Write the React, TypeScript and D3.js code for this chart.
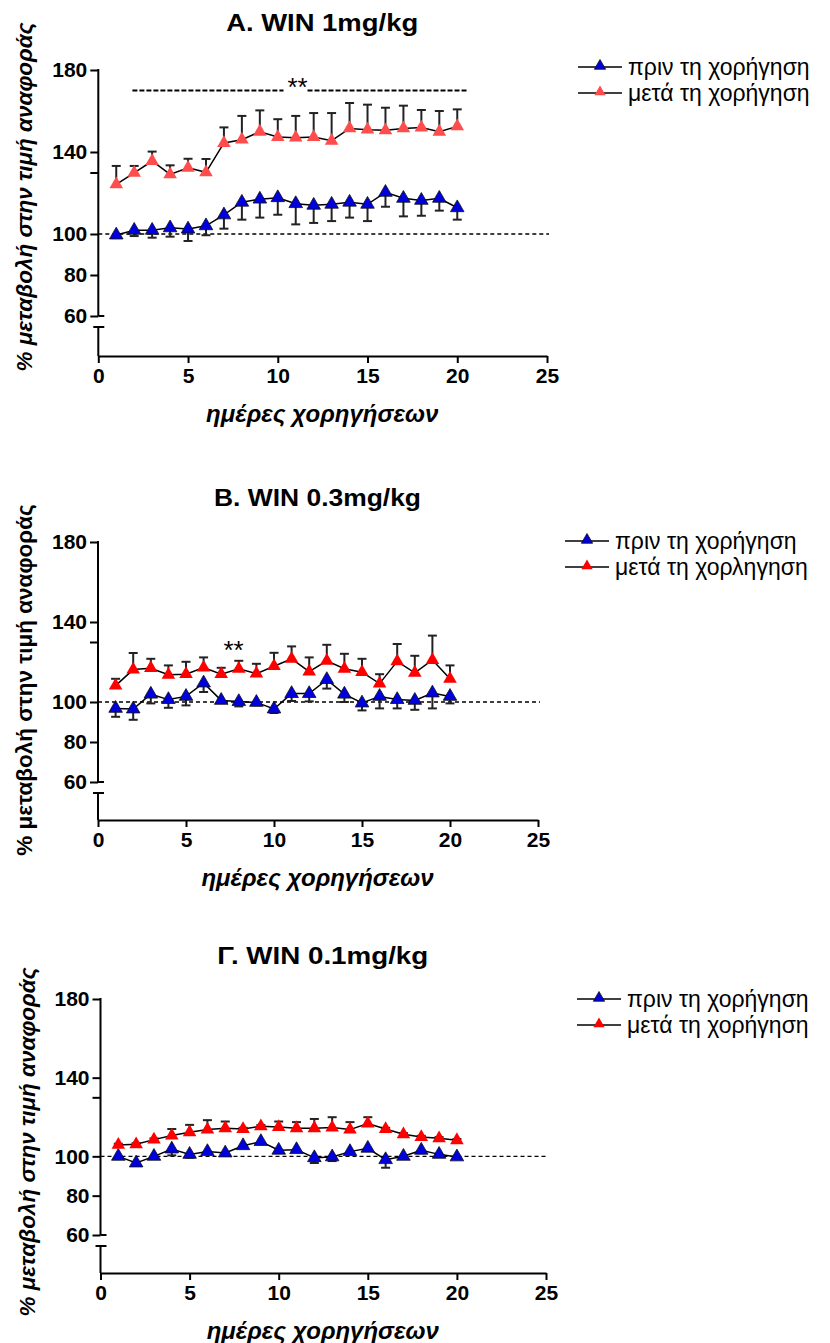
import React, { useEffect, useRef } from 'react'
import * as d3 from 'd3'

// days of administration
const days = [1, 2, 3, 4, 5, 6, 7, 8, 9, 10, 11, 12, 13, 14, 15, 16, 17, 18, 19, 20]
const xTicks = [0, 5, 10, 15, 20, 25]
const yTicks = [60, 80, 100, 130, 140, 180]
const yTickLabels = ['60', '80', '100', '', '140', '180']

// A. WIN 1mg/kg
const winHighBefore = [99.5, 101.8, 101.8, 103, 102.4, 104, 109.3, 115.5, 117, 117.7, 114.8, 114, 114.5, 115.5, 114.5, 120.3, 117.4, 116.4, 117.4, 112.8]
const winHighBeforeSem = [1.5, 2.8, 3.6, 4.3, 5.8, 4.6, 6.7, 8.5, 9, 8.3, 10.1, 8.6, 8.2, 7.5, 8.2, 7, 8.8, 7.5, 6, 5.8]
const winHighAfter = [124.2, 129.8, 135.6, 129.1, 132.3, 130.1, 144.4, 146, 149.9, 147.3, 147, 147.3, 145.5, 151.5, 150.9, 150.6, 151.5, 151.9, 149.9, 152.5]
const winHighAfterSem = [9, 3.4, 4.6, 4.4, 4.4, 6.5, 7.6, 11.6, 10.4, 8.7, 10.6, 11.7, 13.5, 12.4, 12.2, 11, 11.1, 8.6, 10.1, 8.3]

// B. WIN 0.3mg/kg
const winMidBefore = [96.8, 96.5, 103.9, 101.2, 102.8, 109.5, 100.8, 100.2, 99.8, 96.5, 104.2, 104.2, 111.2, 103.9, 99.5, 102.8, 101.2, 100.8, 104.5, 102.8]
const winMidBeforeSem = [4.2, 5.4, 4.6, 4.1, 4.5, 4.5, 1.3, 2.4, 1.4, 2, 3.7, 3.9, 4.5, 3.9, 3.7, 6, 4.4, 4.7, 7.7, 3.5]
const winMidAfter = [108.2, 116.2, 116.9, 113.6, 113.9, 117.2, 113.9, 116.6, 114.2, 117.9, 121.6, 115.2, 120.6, 116.6, 114.9, 109.2, 120.3, 114.6, 121, 111.6]
const winMidAfterSem = [3.4, 8.3, 4.7, 4.7, 6.2, 5.1, 3.2, 4, 4.9, 6.7, 6.2, 7.1, 8, 7.5, 6.7, 4.7, 8.7, 8.5, 12.2, 6.7]

// Γ. WIN 0.1mg/kg
const winLowBefore = [100, 96.6, 100, 103.7, 101, 102.4, 101.7, 105.4, 107.5, 103.1, 103.4, 99.3, 99.7, 102.4, 104.1, 98.3, 100, 103.1, 101, 99.7]
const winLowBeforeSem = [0.8, 0.8, 0.8, 3.2, 1.7, 0.8, 0.8, 0.8, 0.8, 0.8, 0.8, 2.7, 2.1, 0.8, 0.8, 4.1, 0.8, 1.5, 0.8, 0.8]
const winLowAfter = [105.8, 106.1, 108.5, 110.6, 112.2, 113.6, 114.3, 113.9, 115.3, 114.9, 114.3, 114.3, 114.6, 113.6, 116.7, 113.9, 111.2, 109.8, 109.2, 108.2]
const winLowAfterSem = [0.6, 0.6, 0.6, 3.3, 3.8, 4.8, 3.4, 0.6, 0.6, 2.8, 3.1, 4.7, 5.3, 3.8, 3.2, 0.6, 0.6, 0.6, 0.6, 0.6]

const FONT = 'Arial, "Liberation Sans", sans-serif'
const BLUE = '#0000dd'

type PanelCfg = {
  title: string
  titleWidth: number
  before: number[]
  beforeSem: number[]
  after: number[]
  afterSem: number[]
  legend: string[]
  red: string
  italicLabel: boolean
  x0: number
  x25: number
  y180: number
  y60: number
  axisY: number
  titleY: number
  labelY: number
  legendX: number
  legendY: number
  stars?: { x: number; y: number; from?: number; to?: number; lineY?: number }
}

const panels: PanelCfg[] = [
  {
    title: 'A. WIN 1mg/kg', titleWidth: 192,
    before: winHighBefore, beforeSem: winHighBeforeSem,
    after: winHighAfter, afterSem: winHighAfterSem,
    legend: ['πριν τη χορήγηση', 'μετά τη χορήγηση'],
    red: '#ff4d4d', italicLabel: true,
    x0: 98.3, x25: 547, y180: 70, y60: 316, axisY: 356, titleY: 31, labelY: 197,
    legendX: 578, legendY: 67,
    stars: { x: 11.1, y: 173, from: 1.9, to: 20.6, lineY: 170 },
  },
  {
    title: 'B. WIN 0.3mg/kg', titleWidth: 207,
    before: winMidBefore, beforeSem: winMidBeforeSem,
    after: winMidAfter, afterSem: winMidAfterSem,
    legend: ['πριν τη χορήγηση', 'μετά τη χορληγηση'],
    red: '#ff0000', italicLabel: false,
    x0: 98, x25: 538, y180: 542, y60: 782, axisY: 820, titleY: 506, labelY: 680,
    legendX: 565, legendY: 541,
    stars: { x: 7.7, y: 127.5 },
  },
  {
    title: 'Γ. WIN 0.1mg/kg', titleWidth: 211,
    before: winLowBefore, beforeSem: winLowBeforeSem,
    after: winLowAfter, afterSem: winLowAfterSem,
    legend: ['πριν τη χορήγηση', 'μετά τη χορήγηση'],
    red: '#ff0000', italicLabel: true,
    x0: 100.5, x25: 546, y180: 999, y60: 1235, axisY: 1273, titleY: 964, labelY: 1142,
    legendX: 577, legendY: 999,
  },
]

function Panel({ cfg }: { cfg: PanelCfg }) {
  const xRef = useRef<SVGGElement>(null)
  const yRef = useRef<SVGGElement>(null)

  const x = d3.scaleLinear().domain([0, 25]).range([cfg.x0, cfg.x25])
  const y = d3.scaleLinear().domain([60, 180]).range([cfg.y60, cfg.y180])
  const tri = d3.symbol(d3.symbolTriangle, 80)()
  const triSmall = d3.symbol(d3.symbolTriangle, 55)()

  useEffect(() => {
    const xAxis = d3.axisBottom(x).tickValues(xTicks).tickSize(7).tickSizeOuter(0).tickPadding(5)
    const gx = d3.select(xRef.current!)
    gx.call(xAxis)
    gx.select('.domain').attr('stroke-width', 2)
    gx.selectAll('.tick line').attr('stroke-width', 2)
    gx.selectAll('.tick text')
      .attr('font-size', 21).attr('font-weight', 'bold').attr('font-family', FONT).attr('fill', '#000')

    const yAxis = d3.axisLeft(y).tickValues(yTicks).tickSize(8).tickPadding(3)
      .tickFormat((d, i) => yTickLabels[i])
    const gy = d3.select(yRef.current!)
    gy.call(yAxis)
    gy.select('.domain').remove()
    gy.selectAll('.tick line').attr('stroke-width', 2)
    gy.selectAll('.tick text')
      .attr('font-size', 21).attr('font-weight', 'bold').attr('font-family', FONT).attr('fill', '#000')
  }, [])

  const line = d3.line<number>().x((d, i) => x(days[i])).y(d => y(d))
  const capY = cfg.y60 + 11
  const midX = (cfg.x0 + cfg.x25) / 2 - 0.5

  const series = [
    { vals: cfg.before, sem: cfg.beforeSem, dir: 1, fill: BLUE, stroke: '#111' },
    { vals: cfg.after, sem: cfg.afterSem, dir: -1, fill: cfg.red, stroke: 'none' },
  ]

  return (
    <g>
      <text x={midX} y={cfg.titleY} textAnchor="middle" fontFamily={FONT} fontWeight="bold" fontSize={24}
        textLength={cfg.titleWidth} lengthAdjust="spacingAndGlyphs">
        {cfg.title}
      </text>
      <text
        transform={`translate(${cfg.x0 - 66},${cfg.labelY}) rotate(-90)`}
        textAnchor="middle" fontFamily={FONT} fontWeight="bold" fontSize={22.5}
        fontStyle={cfg.italicLabel ? 'italic' : 'normal'}
      >
        % μεταβολή στην τιμή αναφοράς
      </text>
      <text x={midX} y={cfg.axisY + 66} textAnchor="middle" fontFamily={FONT} fontWeight="bold"
        fontStyle="italic" fontSize={24}>
        ημέρες χορηγήσεων
      </text>

      {/* y axis with break */}
      <g stroke="#000" strokeWidth={2}>
        <line x1={cfg.x0} x2={cfg.x0} y1={cfg.y180 - 1} y2={cfg.y60} />
        <line x1={cfg.x0} x2={cfg.x0 + 6} y1={cfg.y60} y2={cfg.y60} />
        <line x1={cfg.x0 - 5} x2={cfg.x0 + 6} y1={capY} y2={capY} />
        <line x1={cfg.x0} x2={cfg.x0} y1={capY} y2={cfg.axisY} />
      </g>
      <g ref={yRef} transform={`translate(${cfg.x0},0)`} />
      <g ref={xRef} transform={`translate(0,${cfg.axisY})`} />

      {/* reference line at 100 */}
      <line x1={cfg.x0} x2={cfg.x25 + 2} y1={y(100)} y2={y(100)} stroke="#000" strokeWidth={1.3} strokeDasharray="4,3" />

      {series.map((s, k) => (
        <g key={k}>
          {s.vals.map((v, i) => {
            const ye = y(v + s.dir * -s.sem[i])
            return (
              <g key={i} stroke="#222" strokeWidth={2}>
                <line x1={x(days[i])} x2={x(days[i])} y1={y(v)} y2={ye} />
                <line x1={x(days[i]) - 4.5} x2={x(days[i]) + 4.5} y1={ye} y2={ye} />
              </g>
            )
          })}
          <path d={line(s.vals) || ''} fill="none" stroke="#000" strokeWidth={1.5} />
          {s.vals.map((v, i) => (
            <path key={i} d={tri || ''} transform={`translate(${x(days[i])},${y(v)})`}
              fill={s.fill} stroke={s.stroke} strokeWidth={0.8} />
          ))}
        </g>
      ))}

      {cfg.stars && (
        <g>
          <text x={x(cfg.stars.x)} y={y(cfg.stars.y) + 12} textAnchor="middle" fontFamily={FONT} fontSize={26}>**</text>
          {cfg.stars.from !== undefined && (
            <g stroke="#000" strokeWidth={2} strokeDasharray="5,2">
              <line x1={x(cfg.stars.from)} x2={x(cfg.stars.x) - 14} y1={y(cfg.stars.lineY!)} y2={y(cfg.stars.lineY!)} />
              <line x1={x(cfg.stars.x) + 10} x2={x(cfg.stars.to!)} y1={y(cfg.stars.lineY!)} y2={y(cfg.stars.lineY!)} />
            </g>
          )}
        </g>
      )}

      {/* legend */}
      {cfg.legend.map((label, i) => {
        const ly = cfg.legendY + i * 26
        return (
          <g key={i}>
            <line x1={cfg.legendX} x2={cfg.legendX + 44} y1={ly} y2={ly} stroke="#000" strokeWidth={1.5} />
            <path d={triSmall || ''} transform={`translate(${cfg.legendX + 22},${ly - 1})`}
              fill={i === 0 ? BLUE : cfg.red} stroke={i === 0 ? '#111' : 'none'} strokeWidth={0.8} />
            <text x={cfg.legendX + 50} y={ly + 8} fontFamily={FONT} fontSize={23}>{label}</text>
          </g>
        )
      })}
    </g>
  )
}

export default function App() {
  return (
    <svg width={830} height={1343} style={{ position: 'absolute', left: 0, top: 0, background: '#fff' }}>
      {panels.map((p, i) => <Panel key={i} cfg={p} />)}
    </svg>
  )
}
